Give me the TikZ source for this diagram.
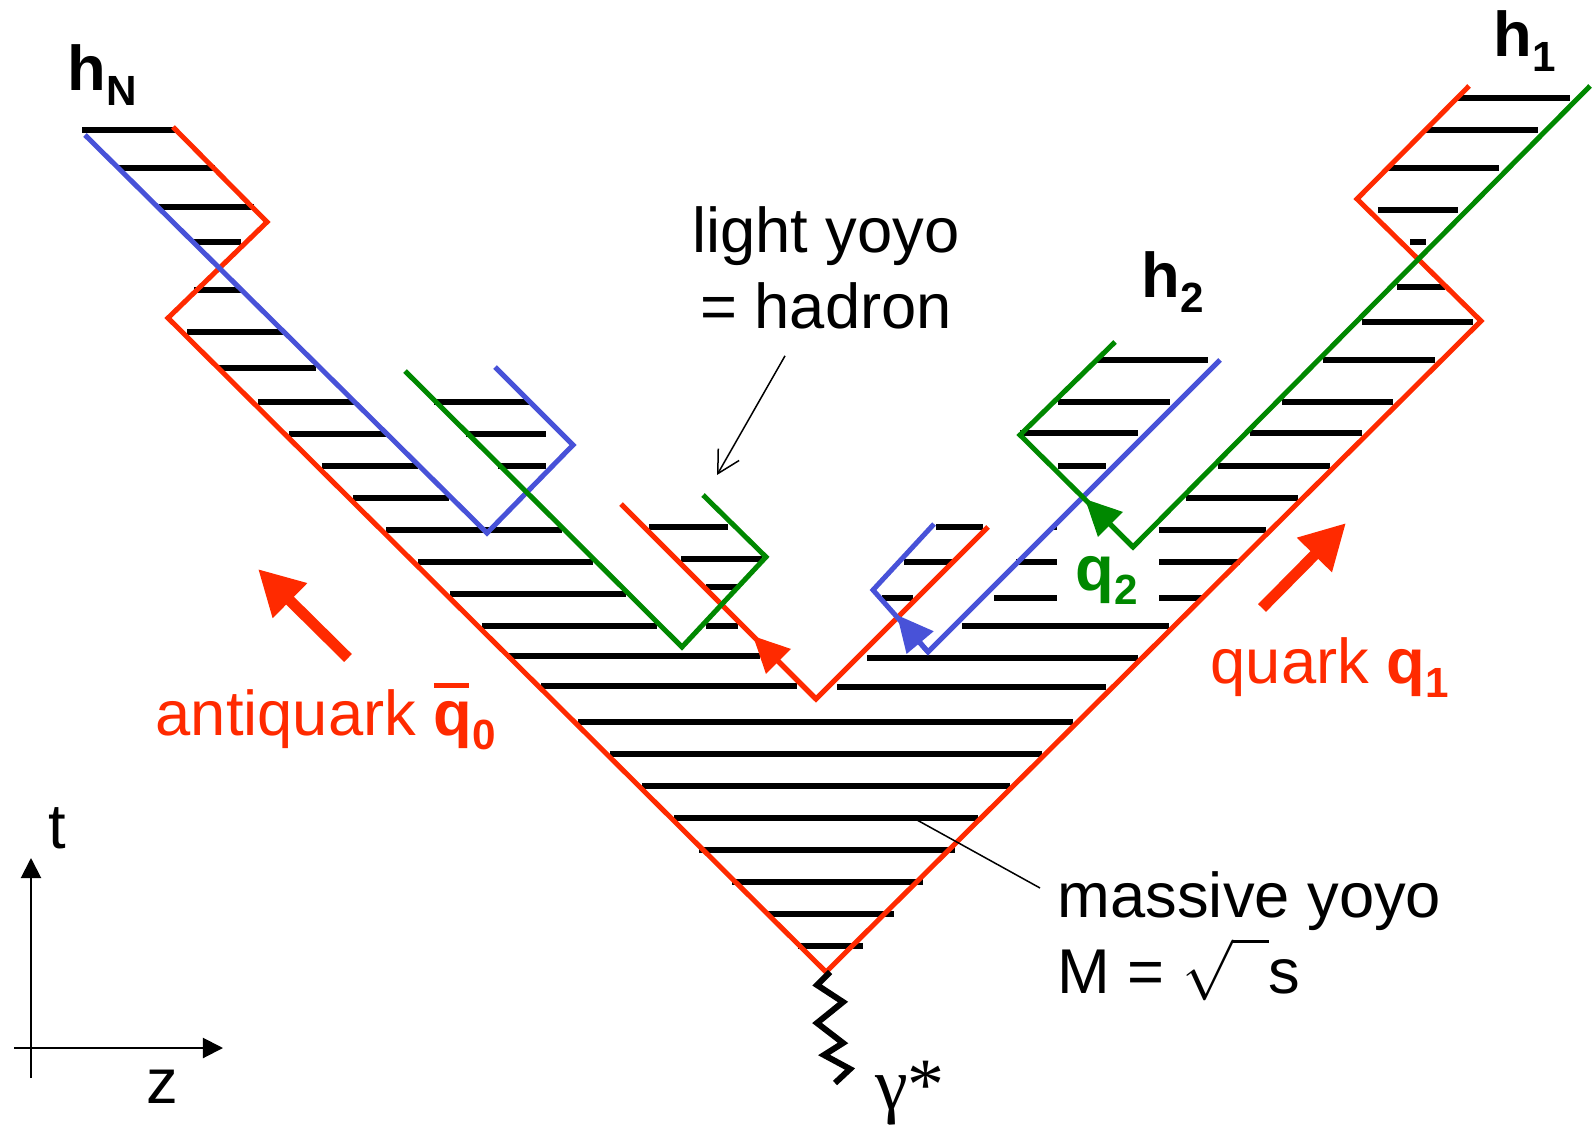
\documentclass[tikz,border=0pt]{standalone}
\usepackage{fontspec}
\setmainfont{Liberation Sans}
\newfontfamily\greekserif{Liberation Serif}
\usetikzlibrary{arrows.meta, calc}
\definecolor{quarkred}{RGB}{255,42,0}
\definecolor{yoyoblue}{RGB}{72,82,216}
\definecolor{yoyogreen}{RGB}{0,136,0}
\newcommand{\lowsub}[1]{\raisebox{-4pt}{\fontsize{12}{12}\selectfont #1}}

\begin{document}
\begin{tikzpicture}[x=0.01cm, y=-0.01cm,
    every node/.style={inner sep=0pt, font=\fontsize{18}{21.6}\selectfont},
    redline/.style={quarkred, line width=0.05cm},
    blueline/.style={yoyoblue, line width=0.05cm},
    greenline/.style={yoyogreen, line width=0.05cm},
    bar/.style={black, line width=0.06cm},
    qarr/.style={-{Triangle[length=0.36cm,width=0.34cm]}},
    bigarr/.style={quarkred, line width=0.11cm, -{Triangle[length=0.45cm,width=0.46cm]}},
    note/.style={black, line width=0.015cm},
    axis/.style={black, line width=0.02cm, -{Triangle[length=0.2cm,width=0.2cm]}},
    lbl/.style={anchor=base west, font=\fontsize{18}{21.6}\selectfont\bfseries}
  ]
  \useasboundingbox (0,0) rectangle (1592,1131);

  \coordinate (V0) at (826,972);
  \coordinate (V1) at (816,699);
  \coordinate (L1) at (168,318);
  \coordinate (L2) at (267,222);
  \coordinate (L3) at (173,127);
  \coordinate (R1) at (1481,321);
  \coordinate (R2) at (1357,199);
  \coordinate (R3) at (1469,86);

  \foreach \y/\a/\b in {130/82/177, 168/119/215, 207/159/254, 242/194/241, 290/194/241,
      332/187/283, 368/219/316, 402/258/354, 434/289/386, 466/322/418, 498/353/449,
      530/386/562, 562/418/593, 594/450/626, 626/482/657, 656/507/760, 686/541/797,
      722/578/1073, 754/610/1042, 786/642/1010, 818/674/978, 850/699/955, 882/732/923,
      914/767/894, 946/798/863,
      402/434/530, 434/466/546, 466/498/546,
      527/649/728, 559/681/762, 587/706/738, 626/706/738,
      687/837/1106, 658/867/1138, 626/962/1169, 598/994/1057, 598/1159/1202,
      562/1016/1057, 562/1159/1240, 527/1052/1057, 530/1159/1266, 498/1186/1298,
      466/1218/1330, 433/1250/1362, 402/1282/1393, 360/1323/1435, 322/1362/1473,
      527/936/983, 562/904/952, 598/882/913,
      360/1097/1208, 402/1058/1170, 433/1020/1138, 466/1058/1106,
      98/1458/1570, 130/1426/1538, 168/1388/1499, 210/1378/1458, 242/1410/1426, 287/1397/1445}
    \draw[bar] (\a,\y) -- (\b,\y);

  \draw[redline] (L3) -- (L2) -- (L1) -- (V0) -- (R1) -- (R2) -- (R3);
  \draw[redline] (621,504) -- (V1) -- (988,527);
  \draw[blueline] (85,135) -- (487,533) -- (573,445) -- (495,367);
  \draw[blueline] (934,524) -- (873,590) -- (928,652) -- (1220,360);
  \draw[greenline] (405,371) -- (682,647) -- (766,557) -- (703,495);
  \draw[greenline] (1115,342) -- (1020,435) -- (1133,547) -- (1590,86);

  \draw[redline, qarr] (V1) -- (753,636);
  \draw[blueline, qarr] (928,652) -- (897,615);
  \draw[greenline, qarr] (1133,547) -- (1085,499);

  \draw[black, line width=0.06cm] (830,972) -- (817,985) -- (843,1002) -- (817,1023)
    -- (843,1043) -- (824,1055) -- (850,1069) -- (835,1083);

  \draw[bigarr] (348,658) -- (258,569);
  \draw[bigarr] (1262,608) -- (1346,523);

  \draw[axis] (14,1048) -- (223,1048);
  \draw[axis] (31,1078) -- (31,858);

  \node[lbl] (hN) at (67,91) {h\lowsub{N}};
  \node[lbl] (h2) at (1141,298) {h\lowsub{2}};
  \node[lbl] (h1) at (1493,57) {h\lowsub{1}};
  \node[lbl, yoyogreen] (q2) at (1075,590) {q\lowsub{2}};
  \node[anchor=base west, quarkred] (quark) at (1210,683) {quark \textbf{q\lowsub{1}}};
  \node[anchor=base west, quarkred] (antiquark) at (155,735)
    {antiquark \textbf{\rlap{\rule[13.5pt]{0.55em}{1.2pt}}q\lowsub{0}}};
  \node[anchor=north, align=center] (light) at (826,206) {light yoyo\\= hadron};
  \node[anchor=north west, align=left] (massive) at (1057,871)
    {massive yoyo\\M = $\sqrt{\vphantom{M}\phantom{n}}$s};
  \node (taxis) at (57,828) {t};
  \node (zaxis) at (162,1087) {z};
  \node (gamma) at (910,1093) {\greekserif\fontsize{21}{21}\selectfont γ*};

  \coordinate (lyoyo) at (717,475);
  \coordinate (mhatch) at (917,820);
  \draw[note, -{Straight Barb[length=0.22cm,width=0.24cm]}] ([shift={(-41,26)}]light.south) -- (lyoyo);
  \draw[note] (mhatch) -- ([shift={(-17,17)}]massive.north west);
\end{tikzpicture}
\end{document}
